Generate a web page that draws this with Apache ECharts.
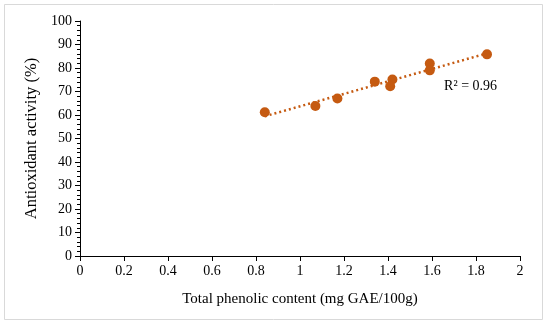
<!DOCTYPE html>
<html>
<head>
<meta charset="utf-8">
<script src="https://cdn.jsdelivr.net/npm/echarts@6/dist/echarts.min.js"></script>
<style>
html,body{margin:0;padding:0;background:#fff;}
#c{width:550px;height:327px;}
</style>
</head>
<body>
<div id="c"></div>
<script>
// Data
const phenolic = [0.84, 1.07, 1.17, 1.34, 1.42, 1.41, 1.59, 1.59, 1.85];
const antioxidant = [61.2, 63.8, 67.0, 74.2, 75.1, 72.2, 81.9, 79.0, 85.8];
const xTicks = [0, 0.2, 0.4, 0.6, 0.8, 1, 1.2, 1.4, 1.6, 1.8, 2];
const yTicks = [0, 10, 20, 30, 40, 50, 60, 70, 80, 90, 100];
const r2Label = 'R² = 0.96';

const color = '#C55A11';
const font = '"Liberation Serif", "Times New Roman", serif';

// Linear least-squares trendline (as in the spreadsheet)
const n = phenolic.length;
const mx = phenolic.reduce((a, b) => a + b, 0) / n;
const my = antioxidant.reduce((a, b) => a + b, 0) / n;
let sxy = 0, sxx = 0;
for (let i = 0; i < n; i++) {
  sxy += (phenolic[i] - mx) * (antioxidant[i] - my);
  sxx += (phenolic[i] - mx) * (phenolic[i] - mx);
}
const slope = sxy / sxx, intercept = my - slope * mx;
const xMin = Math.min(...phenolic), xMax = Math.max(...phenolic);
const trend = [[xMin, intercept + slope * xMin], [xMax, intercept + slope * xMax]];

const chart = echarts.init(document.getElementById('c'), null, {renderer: 'canvas'});
const option = {
  animation: false,
  backgroundColor: '#fff',
  grid: {left: 80, right: 30, top: 21, bottom: 71},
  xAxis: {
    type: 'value', min: xTicks[0], max: xTicks[xTicks.length - 1], interval: 0.2,
    name: 'Total phenolic content (mg GAE/100g)', nameLocation: 'middle', nameGap: 36,
    nameTextStyle: {fontFamily: font, fontSize: 15, color: '#000'},
    axisLine: {show: true, onZero: false, lineStyle: {color: '#000', width: 1}},
    axisTick: {show: true, length: 5, lineStyle: {color: '#000'}},
    axisLabel: {fontFamily: font, fontSize: 14, color: '#000', margin: 8},
    splitLine: {show: false}
  },
  yAxis: {
    type: 'value', min: yTicks[0], max: yTicks[yTicks.length - 1], interval: 10,
    name: 'Antioxidant activity (%)', nameLocation: 'middle', nameGap: 29,
    nameTextStyle: {fontFamily: font, fontSize: 16.5, color: '#000'},
    axisLine: {show: true, lineStyle: {color: '#000', width: 1}},
    axisTick: {show: true, length: 5, lineStyle: {color: '#000'}},
    minorTick: {show: true, splitNumber: 5, length: 3, lineStyle: {color: '#000'}},
    axisLabel: {fontFamily: font, fontSize: 14, color: '#000', margin: 8},
    splitLine: {show: false}
  },
  series: [
    {
      type: 'line', data: trend, symbol: 'none', silent: true,
      lineStyle: {color: color, width: 2.5, type: [2, 3]}, z: 1
    },
    {
      type: 'scatter', data: phenolic.map((x, i) => [x, antioxidant[i]]),
      symbol: 'circle', symbolSize: 10, itemStyle: {color: color, opacity: 1}, z: 2
    }
  ]
};
chart.setOption(option);
const pos = chart.convertToPixel({gridIndex: 0}, [1.655, 72.3]);
chart.setOption({
  graphic: [
    {type: 'rect', shape: {x: 4.5, y: 4.5, width: 538, height: 315}, style: {fill: 'none', stroke: '#d9d9d9', lineWidth: 1}, silent: true},
    {type: 'text', x: pos[0], y: pos[1], style: {text: r2Label, font: '14px ' + font, fill: '#000', textVerticalAlign: 'middle', textAlign: 'left'}}
  ]
});
</script>
</body>
</html>
